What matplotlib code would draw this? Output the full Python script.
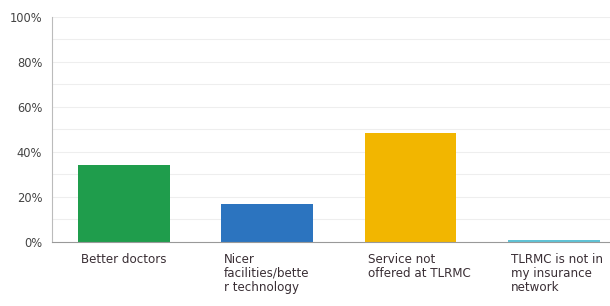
import matplotlib.pyplot as plt
import numpy as np

# survey answers and share of respondents (%)
categories = ['Better doctors', 'Nicer\nfacilities/bette\nr technology',
              'Service not\noffered at TLRMC', 'TLRMC is not in\nmy insurance\nnetwork']
values = [34, 17, 48.5, 0.8]
colors = ['#1f9d4c', '#2c74bf', '#f2b600', '#5fc3d6']
yticks = [0, 20, 40, 60, 80, 100]

fig = plt.figure(figsize=(6.1, 3.06), dpi=100)
ax = fig.add_axes([0.085, 0.21, 0.915, 0.735])

x = np.arange(len(values))
ax.bar(x, values, width=0.64, color=colors, zorder=2)

# faint grid every 10%
for g in range(10, 101, 10):
    ax.axhline(g, color='#eeeeee', linewidth=0.8, zorder=1)

ax.set_xlim(-0.5, 3.39)
ax.set_ylim(0, 100)
ax.set_yticks(yticks)
ax.set_yticklabels([f'{t}%' for t in yticks], fontsize=8.3, color='#444444')
ax.tick_params(axis='y', length=0, pad=7)
ax.set_xticks([])

for s in ['top', 'right']:
    ax.spines[s].set_visible(False)
ax.spines['left'].set_color('#bbbbbb')
ax.spines['bottom'].set_color('#999999')

# category labels sit left-aligned under each bar
for i, lab in enumerate(categories):
    ax.text(i - 0.30, -5, lab, ha='left', va='top', fontsize=8.6,
            color='#3a2f35', linespacing=1.1, transform=ax.transData)

fig.savefig('out.png', dpi=100, facecolor='white')
